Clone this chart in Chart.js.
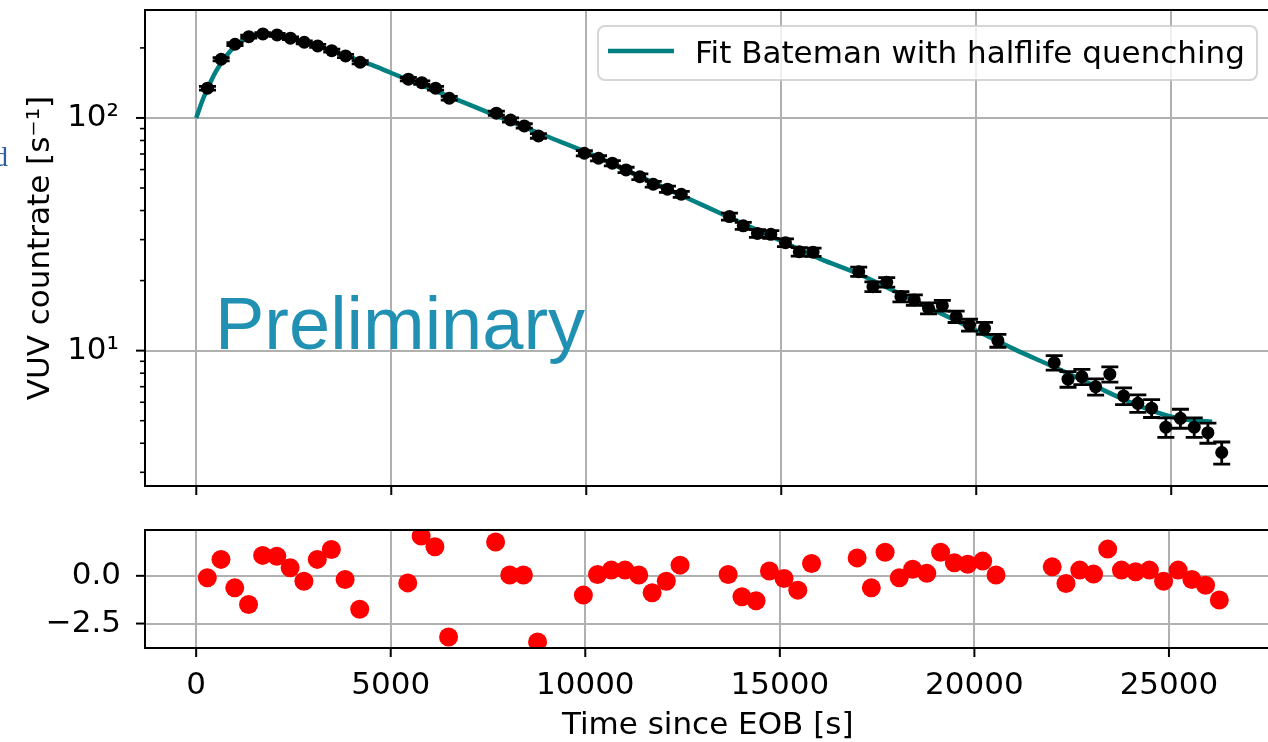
<!DOCTYPE html>
<html>
<head>
<meta charset="utf-8">
<script src="https://cdn.jsdelivr.net/npm/chart.js@4.4.0/dist/chart.umd.min.js"></script>
<style>
  html, body { margin: 0; padding: 0; background: #fff; overflow: hidden; width: 1268px; height: 742px; }
  #top { position: absolute; left: 0; top: 0; }
  #res { position: absolute; left: 0; top: 500px; }
  .prelim { position: absolute; left: 215px; top: 287px; font: 74px/74px "Liberation Sans", Arial, sans-serif; color: #2191b3; white-space: nowrap; }
  .stray { position: absolute; left: -6px; top: 143px; font: 28px/28px "Liberation Serif", serif; color: #2f5f9f; }
</style>
</head>
<body>
<canvas id="top" width="1280" height="500"></canvas>
<canvas id="res" width="1280" height="242"></canvas>
<div class="stray">d</div>
<div class="prelim">Preliminary</div>
<script>
/* ---------- Data ---------- */
const times = [287, 638, 992, 1346, 1708, 2072, 2415, 2769, 3113, 3474, 3828, 4203,
  5438, 5782, 6136, 6487,
  7695, 8059, 8410, 8774,
  9951, 10315, 10669, 11021, 11374, 11718, 12082, 12436,
  13672, 14026, 14390, 14733, 15108, 15462, 15815,
  16987, 17351, 17705, 18069, 18413, 18777, 19131, 19485, 19828, 20213, 20556,
  22000, 22354, 22708, 23062, 23426, 23779, 24144, 24497, 24862, 25236, 25590, 25941, 26295];

const rates = [134.2, 178.7, 207.4, 223.6, 229.6, 227.4, 220.1, 211.5, 203.9, 194.6, 184.7, 173.5,
  146.7, 141.8, 134.2, 121.5,
  104.8, 98.0, 92.4, 83.7,
  70.5, 67.1, 63.9, 59.8, 55.9, 51.9, 49.4, 47.0,
  37.7, 34.4, 31.9, 31.6, 29.1, 26.6, 26.5,
  21.85, 18.84, 19.67, 17.07, 16.52, 15.21, 15.61, 14.0, 12.89, 12.48, 11.04,
  8.88, 7.54, 7.73, 7.0, 7.92, 6.39, 5.94, 5.66, 4.69, 5.12, 4.69, 4.44, 3.65];

const rateErr = [2.4, 2.8, 3.0, 3.1, 3.2, 3.2, 3.1, 3.1, 3.0, 2.9, 2.9, 2.8,
  2.5, 2.5, 2.4, 2.3,
  2.1, 2.1, 2.0, 1.9,
  1.8, 1.7, 1.7, 1.6, 1.6, 1.5, 1.5, 1.4,
  1.3, 1.2, 1.2, 1.2, 1.1, 1.1, 1.1,
  1.0, 0.9, 0.93, 0.87, 0.85, 0.82, 0.83, 0.79, 0.75, 0.74, 0.70,
  0.63, 0.58, 0.58, 0.56, 0.59, 0.53, 0.51, 0.50, 0.45, 0.48, 0.45, 0.44, 0.40];

const residuals = [-0.10, 0.86, -0.63, -1.50, 1.07, 1.03, 0.42, -0.28, 0.86, 1.38, -0.19, -1.75,
  -0.37, 2.08, 1.52, -3.20,
  1.77, 0.04, 0.04, -3.46,
  -1.01, 0.07, 0.30, 0.30, 0.04, -0.89, -0.28, 0.56,
  0.07, -1.10, -1.31, 0.25, -0.14, -0.75, 0.65,
  0.94, -0.63, 1.23, -0.10, 0.34, 0.13, 1.23, 0.68, 0.61, 0.77, 0.04,
  0.47, -0.40, 0.30, 0.09, 1.40, 0.30, 0.21, 0.30, -0.28, 0.30, -0.19, -0.49, -1.27];

// fit curve
const fitT = [0, 150, 300, 500, 700, 1000, 1300, 1600, 1900, 2200, 2500, 3000, 3500, 4000, 4500,
  5000, 6000, 7000, 8000, 9000, 10000, 11000, 12000, 13000, 14000, 15000, 16000, 17000,
  18000, 19000, 20000, 21000, 22000, 23000, 24000, 25000, 25500, 26050];
const fitRate = [100, 118, 135, 158, 178, 204, 220, 227, 227, 224, 218, 207, 193, 181, 169,
  156, 133.5, 114, 97.4, 83.2, 71.3, 59.8, 50.2, 42.1, 35.3, 29.6, 24.8, 21.3,
  17.7, 14.7, 12.2, 10.1, 8.5, 7.1, 5.95, 5.2, 5.02, 4.95];

const xTicks = [0, 5000, 10000, 15000, 20000, 25000];
const yTicksTop = [10, 100];
const yTickLabelsTop = ["10\u00b9", "10\u00b2"];
const yMinorTop = [3, 4, 5, 6, 7, 8, 9, 20, 30, 40, 50, 60, 70, 80, 90, 200];
const yTicksRes = [-2.5, 0];
const yTickLabelsRes = ["\u22122.5", "0.0"];

const X_MIN = -1315, X_MAX = 27610;

/* ---------- Defaults ---------- */
Chart.defaults.font.family = "'DejaVu Sans', sans-serif";
Chart.defaults.font.size = 31;
Chart.defaults.color = "#000";
Chart.defaults.animation = false;

const GRID = "#b0b0b0";

/* ---------- Plugins ---------- */
// spines + tick marks (matplotlib style)
const frame = {
  id: "frame",
  afterDraw(chart, args, opts) {
    const { ctx, chartArea: a, scales } = chart;
    const seg = (x1, y1, x2, y2) => { ctx.beginPath(); ctx.moveTo(x1, y1); ctx.lineTo(x2, y2); ctx.stroke(); };
    ctx.save();
    ctx.strokeStyle = "#000";
    ctx.lineWidth = 2;
    xTicks.forEach(v => { const p = scales.x.getPixelForValue(v); seg(p, a.bottom, p, a.bottom + 9); });
    opts.major.forEach(v => { const p = scales.y.getPixelForValue(v); seg(a.left - 9, p, a.left, p); });
    ctx.lineWidth = 1.6;
    (opts.minor || []).forEach(v => { const p = scales.y.getPixelForValue(v); seg(a.left - 5, p, a.left, p); });
    ctx.lineWidth = 2;
    ctx.strokeRect(a.left, a.top, a.right - a.left, a.bottom - a.top);
    ctx.restore();
  }
};

// error bars, drawn right after the fit line so markers sit on top
const errorBars = {
  id: "errorBars",
  afterDatasetDraw(chart, args) {
    if (args.index !== 1) return;
    const { ctx, chartArea: a, scales } = chart;
    ctx.save();
    ctx.beginPath();
    ctx.rect(a.left, a.top, a.right - a.left, a.bottom - a.top);
    ctx.clip();
    ctx.strokeStyle = "#000";
    ctx.lineWidth = 2.8;
    times.forEach((t, i) => {
      const px = scales.x.getPixelForValue(t);
      const lo = scales.y.getPixelForValue(rates[i] - rateErr[i]);
      const hi = scales.y.getPixelForValue(rates[i] + rateErr[i]);
      ctx.beginPath();
      ctx.moveTo(px, lo); ctx.lineTo(px, hi);
      ctx.moveTo(px - 8.5, lo); ctx.lineTo(px + 8.5, lo);
      ctx.moveTo(px - 8.5, hi); ctx.lineTo(px + 8.5, hi);
      ctx.stroke();
    });
    ctx.restore();
  }
};

// legend box in the upper right
const legendBox = {
  id: "legendBox",
  afterDraw(chart) {
    const ctx = chart.ctx;
    const ds = chart.data.datasets[1];
    const x = 598, y = 26, w = 659, h = 54, r = 7;
    ctx.save();
    ctx.beginPath();
    ctx.roundRect(x, y, w, h, r);
    ctx.fillStyle = "rgba(255,255,255,0.8)";
    ctx.fill();
    ctx.strokeStyle = "rgba(204,204,204,0.8)";
    ctx.lineWidth = 2;
    ctx.stroke();
    ctx.strokeStyle = ds.borderColor;
    ctx.lineWidth = 4.5;
    ctx.beginPath(); ctx.moveTo(608, 51); ctx.lineTo(674, 51); ctx.stroke();
    ctx.fillStyle = "#000";
    ctx.font = "31px 'DejaVu Sans', sans-serif";
    ctx.textBaseline = "alphabetic";
    ctx.fillText(ds.label, 695, 63);
    ctx.restore();
  }
};

// fixed axis boxes, no extra label padding
const fixWidth = (w) => (s) => { s.width = w; s.paddingTop = 0; s.paddingBottom = 0; };
const fixHeight = (h) => (s) => { s.height = h; s.paddingLeft = 0; s.paddingRight = 0; };

/* ---------- Top: countrate ---------- */
new Chart(document.getElementById("top"), {
  type: "scatter",
  data: {
    datasets: [
      {
        label: "data",
        data: times.map((t, i) => ({ x: t, y: rates[i] })),
        pointRadius: 6.5,
        pointBackgroundColor: "#000",
        pointBorderWidth: 0,
        showLine: false,
        clip: 0
      },
      {
        type: "line",
        label: "Fit Bateman with halflife quenching",
        data: fitT.map((t, i) => ({ x: t, y: fitRate[i] })),
        borderColor: "#008080",
        borderWidth: 4.5,
        pointRadius: 0,
        fill: false,
        cubicInterpolationMode: "monotone",
        clip: 0
      }
    ]
  },
  options: {
    responsive: false,
    devicePixelRatio: 1,
    layout: { padding: { top: 10, right: 7, left: 0, bottom: 0 } },
    plugins: { legend: { display: false }, tooltip: { enabled: false }, frame: { major: yTicksTop, minor: yMinorTop } },
    scales: {
      x: {
        type: "linear", min: X_MIN, max: X_MAX,
        afterBuildTicks: (s) => { s.ticks = xTicks.map(v => ({ value: v })); },
        afterFit: fixHeight(14),
        ticks: { display: false },
        grid: { color: GRID, lineWidth: 2, drawTicks: false },
        border: { display: false }
      },
      y: {
        type: "logarithmic", min: 2.62, max: 291,
        afterBuildTicks: (s) => { s.ticks = yTicksTop.map(v => ({ value: v })); },
        afterFit: fixWidth(145),
        ticks: { padding: 26, callback: (v, i) => yTickLabelsTop[i] },
        grid: { color: GRID, lineWidth: 2, drawTicks: false },
        border: { display: false },
        title: { display: true, text: "VUV countrate [s\u207b\u00b9]", padding: { top: 22, bottom: 0 } }
      }
    }
  },
  plugins: [errorBars, frame, legendBox]
});

/* ---------- Bottom: residuals ---------- */
new Chart(document.getElementById("res"), {
  type: "scatter",
  data: {
    datasets: [{
      label: "residuals",
      data: times.map((t, i) => ({ x: t, y: residuals[i] })),
      pointRadius: 9.5,
      pointBackgroundColor: "#ff0000",
      pointBorderWidth: 0,
      clip: 0
    }]
  },
  options: {
    responsive: false,
    devicePixelRatio: 1,
    layout: { padding: { top: 30, right: 7, left: 0, bottom: 0 } },
    plugins: { legend: { display: false }, tooltip: { enabled: false }, frame: { major: yTicksRes } },
    scales: {
      x: {
        type: "linear", min: X_MIN, max: X_MAX,
        afterBuildTicks: (s) => { s.ticks = xTicks.map(v => ({ value: v })); },
        afterFit: fixHeight(94),
        ticks: { padding: 19, maxRotation: 0, callback: (v) => String(v) },
        grid: { color: GRID, lineWidth: 2, drawTicks: false },
        border: { display: false },
        title: { display: true, text: "Time since EOB [s]", padding: { top: 0, bottom: -3 } }
      },
      y: {
        type: "linear", min: -3.78, max: 2.4,
        afterBuildTicks: (s) => { s.ticks = yTicksRes.map(v => ({ value: v })); },
        afterFit: fixWidth(145),
        ticks: { padding: 24, callback: (v, i) => yTickLabelsRes[i] },
        grid: { color: GRID, lineWidth: 2, drawTicks: false },
        border: { display: false }
      }
    }
  },
  plugins: [frame]
});
</script>
</body>
</html>
